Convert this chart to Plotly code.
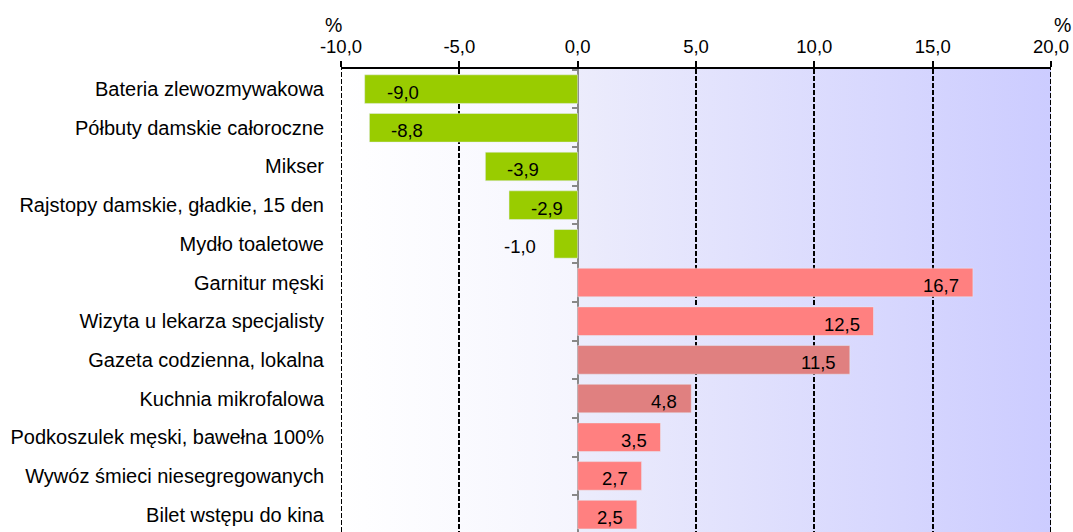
import base64
import plotly.graph_objects as go

categories = [
    "Bateria zlewozmywakowa",
    "Półbuty damskie całoroczne",
    "Mikser",
    "Rajstopy damskie, gładkie, 15 den",
    "Mydło toaletowe",
    "Garnitur męski",
    "Wizyta u lekarza specjalisty",
    "Gazeta codzienna, lokalna",
    "Kuchnia mikrofalowa",
    "Podkoszulek męski, bawełna 100%",
    "Wywóz śmieci niesegregowanych",
    "Bilet wstępu do kina",
]
values = [-9.0, -8.8, -3.9, -2.9, -1.0, 16.7, 12.5, 11.5, 4.8, 3.5, 2.7, 2.5]
bar_colors = ["#99CC00"] * 5 + ["#FF8080", "#FF8080", "#E08080", "#E08080",
                                "#FF8080", "#FF8080", "#FF8080"]
x_ticks = [-10, -5, 0, 5, 10, 15, 20]
x_tick_labels = ["-10,0", "-5,0", "0,0", "5,0", "10,0", "15,0", "20,0"]

FONT = "Liberation Sans, Arial, sans-serif"

x0, x1 = x_ticks[0], x_ticks[-1]
zf = (0 - x0) / (x1 - x0)

svg = ('<svg xmlns="http://www.w3.org/2000/svg" width="300" height="10" '
       'viewBox="0 0 300 10" preserveAspectRatio="none">'
       '<defs><linearGradient id="g" x1="0" y1="0" x2="1" y2="0">'
       '<stop offset="0" stop-color="#FFFFFF"/>'
       f'<stop offset="{zf:.4f}" stop-color="#F5F5FE"/>'
       f'<stop offset="{zf:.4f}" stop-color="#ECECFC"/>'
       '<stop offset="1" stop-color="#CCCCFF"/>'
       '</linearGradient></defs><rect width="300" height="10" fill="url(#g)"/></svg>')
bg_src = "data:image/svg+xml;base64," + base64.b64encode(svg.encode()).decode()

fig = go.Figure()
fig.add_trace(go.Bar(
    y=categories, x=values, orientation="h",
    marker=dict(color=bar_colors, line=dict(width=0)),
    width=0.74, hoverinfo="skip",
))
# invisible trace to carry the zero-positioned category tick axis
fig.add_trace(go.Bar(
    y=categories, x=values, orientation="h", yaxis="y2",
    marker=dict(color="rgba(0,0,0,0)"), width=0.74, hoverinfo="skip",
    showlegend=False,
))

annotations = []
for c, v in zip(categories, values):
    txt = f"{v:.1f}".replace(".", ",")
    if v > 0:
        anchor, shift = "right", -12
    elif v <= -2:
        anchor, shift = "left", 20
    else:
        anchor, shift = "right", -16
    annotations.append(dict(
        x=v, y=c, xref="x", yref="y", text=txt, showarrow=False,
        xanchor=anchor, yanchor="middle", xshift=shift, yshift=-3,
        font=dict(family=FONT, size=18.5, color="#000000"),
    ))

annotations.append(dict(x=-0.011, y=1.095, xref="paper", yref="paper", text="%",
                        showarrow=False, xanchor="center", yanchor="middle",
                        font=dict(family=FONT, size=19.5, color="#000000")))
annotations.append(dict(x=1.0155, y=1.095, xref="paper", yref="paper", text="%",
                        showarrow=False, xanchor="center", yanchor="middle",
                        font=dict(family=FONT, size=19.5, color="#000000")))

edge_lines = [dict(type="line", xref="x", yref="paper", x0=xv, x1=xv, y0=0, y1=1,
                   line=dict(color="#000000", width=2, dash="5px,2px"), layer="above")
              for xv in (x0, x1)]

fig.update_layout(
    width=1073, height=532,
    margin=dict(l=341, r=22, t=69, b=0, pad=0),
    paper_bgcolor="white",
    plot_bgcolor="rgba(0,0,0,0)",
    showlegend=False,
    bargap=0.26,
    annotations=annotations,
    shapes=edge_lines,
    images=[dict(source=bg_src, xref="x", yref="paper", x=x0, y=1,
                 sizex=x1 - x0, sizey=1, sizing="stretch", layer="below",
                 xanchor="left", yanchor="top")],
    xaxis=dict(
        side="top", range=[x0, x1], tickvals=x_ticks, ticktext=x_tick_labels,
        showline=True, linecolor="#000000", linewidth=1.5,
        ticks="outside", ticklen=6, tickcolor="#000000", tickwidth=1.5,
        ticklabelstandoff=1,
        showgrid=True, gridcolor="#000000", gridwidth=2, griddash="5px,2px",
        zeroline=True, zerolinecolor="#888888", zerolinewidth=2,
        tickfont=dict(family=FONT, size=18.5, color="#000000"),
        fixedrange=True,
    ),
    yaxis=dict(
        type="category", categoryorder="array", categoryarray=categories,
        range=[11.45, -0.52], showgrid=False, showline=False, zeroline=False,
        ticks="", ticklabelstandoff=16,
        tickfont=dict(family=FONT, size=20, color="#000000"),
        fixedrange=True,
    ),
    yaxis2=dict(
        type="category", categoryorder="array", categoryarray=categories,
        overlaying="y", matches="y", anchor="free",
        position=zf, side="left",
        showticklabels=False, showgrid=False, showline=False, zeroline=False,
        ticks="outside", tickson="boundaries", ticklen=6, tickwidth=2,
        tickcolor="#888888", fixedrange=True,
    ),
)

fig.write_html("out.html", config={"displayModeBar": False},
               post_script="document.body.style.margin='0';")
